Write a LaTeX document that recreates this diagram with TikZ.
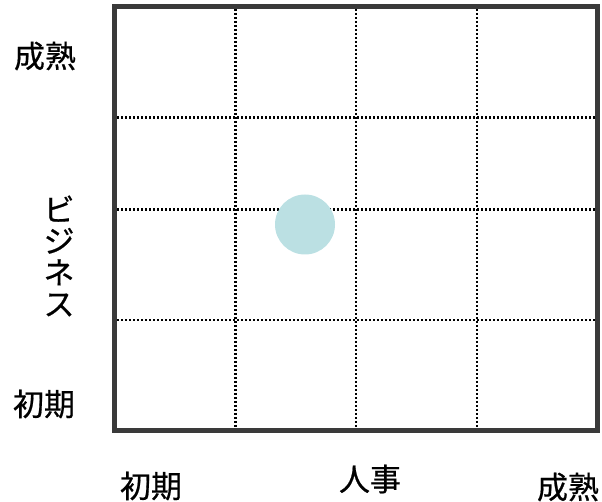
\documentclass[tikz,border=0pt]{standalone}
\usepackage{fontspec}
\setmainfont{Noto Sans CJK JP}[FakeBold=0.6]
\definecolor{framegray}{HTML}{3A3A3A}
\definecolor{dotteal}{HTML}{BBE0E3}
\begin{document}
\begin{tikzpicture}[x=1pt,y=-1pt,
  lbl/.style={font=\fontsize{31}{31.5}\selectfont, inner sep=0pt},
  gridline/.style={line width=2.2pt, dash pattern=on 2.1pt off 1.9pt, black},
  framebox/.style={line width=5pt, draw=framegray}]
\useasboundingbox (0,0) rectangle (602,502);
\coordinate (tl) at (114.5,6.5);
\coordinate (br) at (597,430);
% grid lines
\coordinate (v1t) at (235.5,9); \coordinate (v1b) at (235.5,428);
\coordinate (v2t) at (356,9); \coordinate (v2b) at (356,428);
\coordinate (v3t) at (477,9); \coordinate (v3b) at (477,428);
\coordinate (h1l) at (117,117.5); \coordinate (h1r) at (595,117.5);
\coordinate (h2l) at (117,209.5); \coordinate (h2r) at (595,209.5);
\coordinate (h3l) at (117,320); \coordinate (h3r) at (595,320);
\draw[gridline] (v1t) -- (v1b);
\draw[gridline] (v2t) -- (v2b);
\draw[gridline] (v3t) -- (v3b);
\draw[gridline] (h1l) -- (h1r);
\draw[gridline] (h2l) -- (h2r);
\draw[gridline] (h3l) -- (h3r);
\draw[framebox] (tl) rectangle (br);
\node[circle, fill=dotteal, minimum size=60pt, inner sep=0pt] (dot) at (305,224.5) {};
% labels
\node[lbl] (ytop) at (45,56) {成熟};
\node[lbl] (ybot) at (44,404) {初期};
\node[lbl, align=center] (yaxis) at (59,256) {ビ\\ジ\\ネ\\ス};
\node[lbl] (xleft) at (151,486) {初期};
\node[lbl] (xaxis) at (370,479) {人事};
\node[lbl] (xright) at (568,487) {成熟};
\end{tikzpicture}
\end{document}
